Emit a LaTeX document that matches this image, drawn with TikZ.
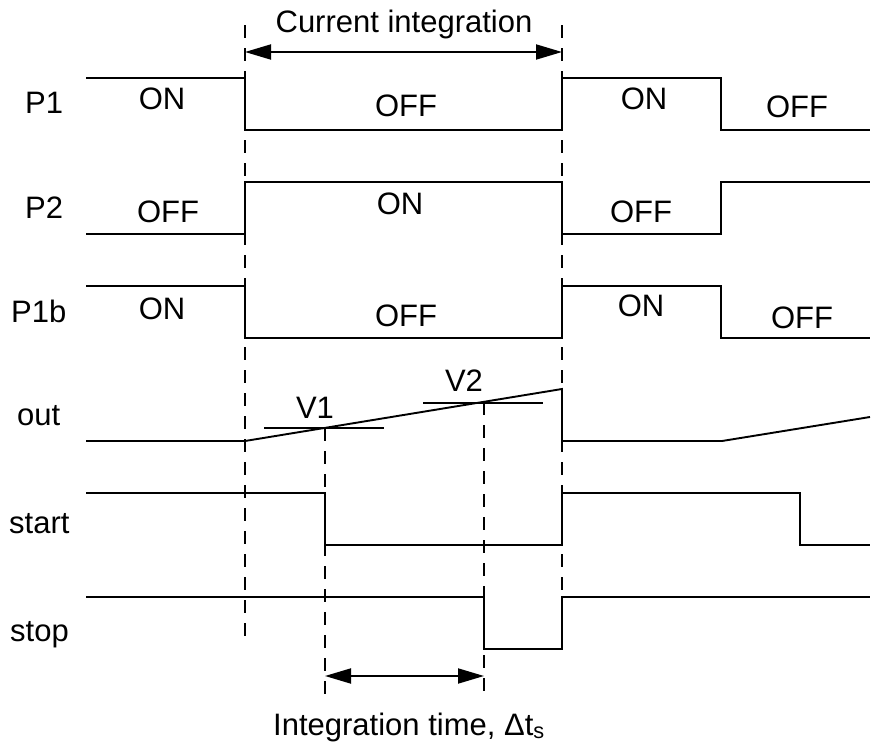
\documentclass[tikz,border=0pt]{standalone}
\usepackage{fontspec}
\setmainfont{Liberation Sans}
\usetikzlibrary{arrows.meta}
\begin{document}
\begin{tikzpicture}[x=1pt,y=-1pt,
  sig/.style={line width=1.9pt, line join=miter},
  guide/.style={line width=1.6pt, dash pattern=on 13pt off 10pt},
  dim/.style={line width=1.9pt,
    {Triangle[length=26pt,width=15pt]}-{Triangle[length=26pt,width=15pt]}},
  lbl/.style={inner sep=0pt, anchor=base, font=\fontsize{31}{37}\selectfont},
  sname/.style={lbl, anchor=base west}]
\useasboundingbox (0,0) rectangle (871,744);

% time markers
\coordinate (a0) at (245,25);  \coordinate (a1) at (245,646);
\coordinate (b0) at (562,25);  \coordinate (b1) at (562,646);
\coordinate (v1a) at (325,428); \coordinate (v1b) at (325,700);
\coordinate (v2a) at (484,402); \coordinate (v2b) at (484,700);

\draw[guide] (a0) -- (a1);
\draw[guide] (b0) -- (b1);
\draw[guide] (v1a) -- (v1b);
\draw[guide] (v2a) -- (v2b);

% dimension arrows
\coordinate (ci0) at (245,52); \coordinate (ci1) at (562,52);
\draw[dim] (ci0) -- (ci1);
\node[lbl] (ctitle) at (404,32) {Current integration};

\coordinate (it0) at (325,676); \coordinate (it1) at (484,676);
\draw[dim] (it0) -- (it1);
\node[lbl] (ittitle) at (409,735) {Integration time, Δt\textsubscript{s}};

% signal names
\node[sname] (nP1)  at (25,113) {P1};
\node[sname] (nP2)  at (25,218) {P2};
\node[sname] (nP1b) at (11,322) {P1b};
\node[sname] (nout) at (17,425) {out};
\node[sname] (nstart) at (9,533) {start};
\node[sname] (nstop)  at (10,641) {stop};

% waveforms
\draw[sig] (86,78) -- (245,78) -- (245,130) -- (562,130) -- (562,78)
  -- (721,78) -- (721,130) -- (870,130);
\draw[sig] (86,234) -- (245,234) -- (245,182) -- (562,182) -- (562,234)
  -- (721,234) -- (721,182) -- (870,182);
\draw[sig] (86,286) -- (245,286) -- (245,338) -- (562,338) -- (562,286)
  -- (721,286) -- (721,338) -- (870,338);
\draw[sig] (86,441) -- (245,441) -- (562,389) -- (562,441)
  -- (722,441) -- (870,417);
\draw[sig] (86,493) -- (325,493) -- (325,545) -- (562,545) -- (562,493)
  -- (800,493) -- (800,545) -- (870,545);
\draw[sig] (86,597) -- (484,597) -- (484,649) -- (562,649) -- (562,597)
  -- (870,597);

% threshold levels
\draw[sig] (264,428) -- (384,428);
\draw[sig] (423,403) -- (543,403);
\node[lbl] (lv1) at (315,418) {V1};
\node[lbl] (lv2) at (464,391) {V2};

% state labels
\node[lbl] (s1) at (162,109) {ON};
\node[lbl] (s2) at (406,116) {OFF};
\node[lbl] (s3) at (644,109) {ON};
\node[lbl] (s4) at (797,117) {OFF};
\node[lbl] (s5) at (168,222) {OFF};
\node[lbl] (s6) at (400,214) {ON};
\node[lbl] (s7) at (641,222) {OFF};
\node[lbl] (s8) at (162,319) {ON};
\node[lbl] (s9) at (406,326) {OFF};
\node[lbl] (s10) at (641,316) {ON};
\node[lbl] (s11) at (802,328) {OFF};
\end{tikzpicture}
\end{document}
